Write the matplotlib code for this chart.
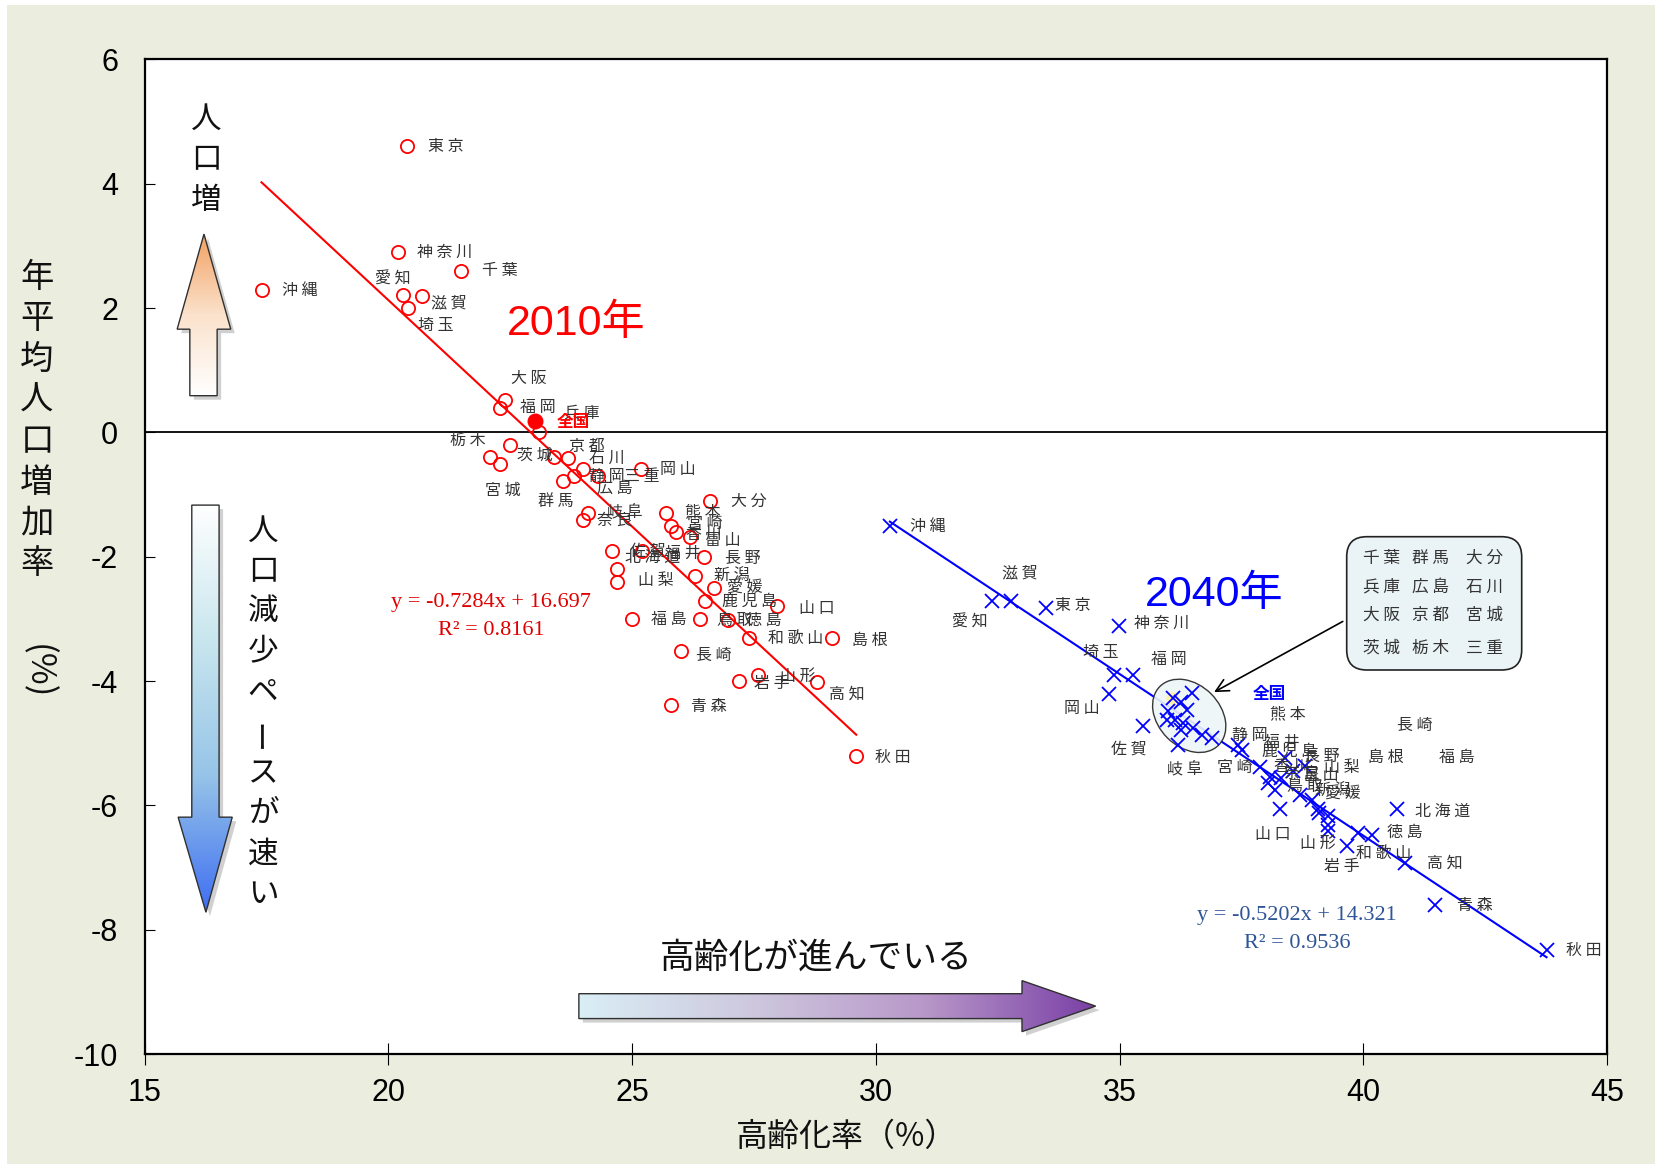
import matplotlib
matplotlib.use("Agg")
import matplotlib.pyplot as plt
import matplotlib.transforms as mtransforms
import numpy as np
from matplotlib.patches import Polygon, Ellipse, FancyBboxPatch, Rectangle
from matplotlib.colors import LinearSegmentedColormap

JP = ["Noto Sans CJK JP", "DejaVu Sans"]
NUM = ["Liberation Sans", "Noto Sans CJK JP"]
SERIF = ["Liberation Serif", "DejaVu Serif"]
plt.rcParams["font.family"] = JP
plt.rcParams["axes.unicode_minus"] = False

# --- 2010: 高齢化率 (%) / 人口増加率 (%)
names_2010 = ["東京", "神奈川", "千葉", "沖縄", "愛知", "滋賀", "埼玉", "大阪", "福岡", "兵庫",
              "茨城", "栃木", "宮城", "京都", "石川", "広島", "静岡", "群馬", "三重", "岡山",
              "大分", "岐阜", "奈良", "熊本", "宮崎", "香川", "富山", "佐賀", "福井", "北海道",
              "山梨", "長野", "新潟", "愛媛", "鹿児島", "山口", "福島", "鳥取", "徳島", "和歌山",
              "島根", "長崎", "岩手", "山形", "高知", "青森", "秋田"]
aging_2010 = [20.39, 20.20, 21.50, 17.40, 20.30, 20.69, 20.40, 22.40, 22.30, 23.09,
              22.50, 22.09, 22.29, 23.40, 23.68, 23.99, 23.80, 23.59, 24.30, 25.18,
              26.59, 24.10, 23.99, 25.70, 25.79, 25.90, 26.19, 24.58, 25.21, 24.70,
              24.70, 26.48, 26.29, 26.68, 26.49, 27.97, 24.99, 26.39, 26.96, 27.39,
              29.10, 26.00, 27.19, 27.59, 28.79, 25.79, 29.60]
growth_2010 = [4.60, 2.90, 2.60, 2.29, 2.21, 2.20, 2.00, 0.52, 0.40, 0.00,
               -0.20, -0.40, -0.51, -0.40, -0.41, -0.59, -0.70, -0.79, -0.70, -0.59,
               -1.10, -1.29, -1.41, -1.29, -1.50, -1.61, -1.69, -1.91, -1.91, -2.20,
               -2.41, -2.00, -2.31, -2.50, -2.71, -2.80, -3.01, -3.01, -3.02, -3.30,
               -3.30, -3.51, -4.00, -3.90, -4.01, -4.39, -5.21]
national_2010 = (23.00, 0.19)

# --- 2040
names_2040 = ["沖縄", "愛知", "滋賀", "東京", "神奈川", "埼玉", "福岡", "岡山", "佐賀", "岐阜",
              "静岡", "宮崎", "鹿児島", "香川", "熊本", "奈良", "富山", "鳥取", "福井", "山梨",
              "山口", "島根", "長崎", "福島", "山形", "岩手", "和歌山", "徳島", "北海道", "高知",
              "青森", "秋田", "長野", "新潟", "愛媛",
              "千葉", "群馬", "大分", "兵庫", "広島", "石川", "大阪", "京都", "宮城", "茨城",
              "栃木", "三重"]
aging_2040 = [30.29, 32.39, 32.77, 33.49, 34.99, 34.89, 35.28, 34.78, 35.49, 36.19,
              37.43, 37.51, 37.88, 38.09, 38.39, 38.32, 38.05, 38.19, 38.81, 38.70,
              38.29, 39.08, 39.28, 39.28, 39.28, 39.66, 39.90, 40.17, 40.69, 40.86,
              41.47, 43.76, 38.55, 38.95, 39.10,
              36.10, 36.27, 36.48, 36.00, 36.38, 35.97, 36.14, 36.31, 36.27, 36.51,
              36.69, 36.89]
growth_2040 = [-1.51, -2.71, -2.71, -2.82, -3.11, -3.91, -3.91, -4.21, -4.72, -5.03,
               -5.03, -5.11, -5.38, -5.54, -5.24, -5.56, -5.64, -5.75, -5.36, -5.84,
               -6.06, -6.06, -6.17, -6.31, -6.42, -6.66, -6.45, -6.48, -6.06, -6.93,
               -7.61, -8.33, -5.45, -5.92, -6.12,
               -4.28, -4.33, -4.20, -4.49, -4.47, -4.63, -4.63, -4.68, -4.79, -4.76,
               -4.87, -4.92]
national_2040 = (36.08, -4.28)

fit_2010 = (-0.7284, 16.697, 0.8161)
fit_2040 = (-0.5202, 14.321, 0.9536)

box_names = [["千葉", "群馬", "大分"], ["兵庫", "広島", "石川"],
             ["大阪", "京都", "宮城"], ["茨城", "栃木", "三重"]]
in_box = {n for row in box_names for n in row}

# label offsets in pixels (dx, dy downward)
off_2010 = {
    "東京": (39, 0), "神奈川": (47, 0), "千葉": (38, 0), "沖縄": (38, 0), "愛知": (-10, -16),
    "滋賀": (27, 7), "埼玉": (28, 17), "大阪": (24, -22), "福岡": (37, 0), "兵庫": (43, -19),
    "茨城": (25, 10), "栃木": (-22, -17), "宮城": (3, 26), "京都": (33, -11), "石川": (39, 0),
    "広島": (32, 19), "静岡": (33, 1), "群馬": (-7, 20), "三重": (44, 1), "岡山": (37, 0),
    "大分": (39, 1), "岐阜": (37, 0), "奈良": (32, 0), "熊本": (37, -1), "宮崎": (34, -2),
    "香川": (28, 2), "富山": (33, 3), "佐賀": (36, 0), "福井": (41, 2), "北海道": (35, -12),
    "山梨": (38, -2), "長野": (39, 2), "新潟": (37, 0), "愛媛": (31, 0), "鹿児島": (45, 1),
    "山口": (40, 2), "福島": (37, 0), "鳥取": (35, 1), "徳島": (36, 0), "和歌山": (47, 1),
    "島根": (38, 3), "長崎": (33, 5), "岩手": (33, 2), "山形": (40, 2), "高知": (30, 12),
    "青森": (38, 1), "秋田": (37, 1)}
off_2040 = {
    "沖縄": (38, 0), "愛知": (-22, 21), "滋賀": (9, -28), "東京": (27, -2), "神奈川": (43, -2),
    "埼玉": (-13, -23), "福岡": (36, -16), "岡山": (-27, 14), "佐賀": (-15, 23), "岐阜": (7, 25),
    "静岡": (12, -10), "宮崎": (-7, 17), "鹿児島": (30, -15), "香川": (22, -10), "熊本": (3, -44),
    "奈良": (20, -5), "富山": (53, -7), "鳥取": (30, -3), "福井": (-23, -23), "山梨": (42, -28),
    "山口": (-7, 25), "島根": (67, -52), "長崎": (87, -90), "福島": (129, -67), "山形": (-10, 12),
    "岩手": (-5, 20), "和歌山": (25, 20), "徳島": (33, -3), "北海道": (46, 2), "高知": (40, 0),
    "青森": (40, 0), "秋田": (37, 0), "長野": (29, -15), "新潟": (21, -9), "愛媛": (23, -19)}

W, H = 1656, 1164


def fpx(x, y):
    return x / W, 1 - y / H


def spaced(s):
    return " ".join(s)


fig = plt.figure(figsize=(W / 100, H / 100), dpi=100)
fig.patch.set_facecolor("white")
fig.patches.append(Rectangle((7 / W, 0), 1, 1 - 5 / H, transform=fig.transFigure,
                             facecolor="#EBEEDF", edgecolor="none", zorder=-5))

ax = fig.add_axes([0.08726, 0.0945, 0.88315, 0.85447])
ax.set_facecolor("white")


def gradient_arrow(verts, colors, vertical=True):
    poly = Polygon(verts, closed=True, facecolor="none", edgecolor="#303030", lw=1.0, zorder=3.1)
    shadow = Polygon(verts, closed=True, facecolor="#7a7a7a", edgecolor="none", alpha=0.35, zorder=2.9,
                     transform=mtransforms.offset_copy(ax.transData, fig=fig, x=4, y=-4, units="dots"))
    ax.add_patch(shadow)
    ax.add_patch(poly)
    xs = [v[0] for v in verts]
    ys = [v[1] for v in verts]
    cmap = LinearSegmentedColormap.from_list("g", colors)
    grad = np.linspace(0, 1, 256)
    img = grad.reshape(-1, 1) if vertical else grad.reshape(1, -1)
    im = ax.imshow(img, cmap=cmap, extent=(min(xs), max(xs), min(ys), max(ys)), origin="lower",
                   aspect="auto", zorder=3, interpolation="bilinear")
    im.set_clip_path(poly)


# up / down / right arrows
gradient_arrow([(15.93, 0.59), (16.49, 0.59), (16.49, 1.66), (16.77, 1.66), (16.22, 3.19),
                (15.67, 1.66), (15.93, 1.66)], ["#FFFFFF", "#FBE2CC", "#F2A163"])
gradient_arrow([(15.97, -1.17), (16.53, -1.17), (16.53, -6.19), (16.80, -6.19), (16.26, -7.72),
                (15.69, -6.19), (15.97, -6.19)], ["#3F6EF2", "#96C4E8", "#C8E6EE", "#FFFFFF"])
gradient_arrow([(23.91, -9.03), (33.0, -9.03), (33.0, -8.82), (34.51, -9.23), (33.0, -9.64),
                (33.0, -9.43), (23.91, -9.43)], ["#DAEEF6", "#CEC8DE", "#B898C9", "#7A40A6"],
               vertical=False)

ax.axhline(0, color="black", lw=1.3, zorder=2)

# 2010 series
ax.plot(aging_2010, growth_2010, "o", ms=9.5, mfc="none", mec="#FF0000", mew=1.3, zorder=5)
ax.plot(*national_2010, "o", ms=10.5, color="#FF0000", zorder=5)
x0, x1 = min(aging_2010), max(aging_2010)
ax.plot([x0, x1], [fit_2010[0] * x0 + fit_2010[1], fit_2010[0] * x1 + fit_2010[1]],
        color="#FF0000", lw=1.5, zorder=4)

# 2040 series
ax.plot(*national_2040, "o", ms=8, color="#FFF2A8", zorder=4.5)
ax.plot(aging_2040, growth_2040, "x", ms=9.5, mec="#0000FF", mew=1.3, zorder=5)
x0, x1 = min(aging_2040), max(aging_2040)
ax.plot([x0, x1], [fit_2040[0] * x0 + fit_2040[1], fit_2040[0] * x1 + fit_2040[1]],
        color="#0000FF", lw=1.5, zorder=4)

for n, x, y in zip(names_2010, aging_2010, growth_2010):
    dx, dy = off_2010[n]
    ax.annotate(spaced(n), (x, y), xytext=(dx, -dy), textcoords="offset pixels", ha="center",
                va="center", fontsize=11.5, color="#333333", zorder=6)
for n, x, y in zip(names_2040, aging_2040, growth_2040):
    if n in in_box:
        continue
    dx, dy = off_2040[n]
    ax.annotate(spaced(n), (x, y), xytext=(dx, -dy), textcoords="offset pixels", ha="center",
                va="center", fontsize=11.5, color="#333333", zorder=6)

ax.annotate("全国", national_2010, xytext=(39, -1), textcoords="offset pixels", ha="center",
            va="center", fontsize=12, fontweight="bold", color="#FF0000", zorder=6)
ax.annotate("全国", national_2040, xytext=(97, 4), textcoords="offset pixels", ha="center",
            va="center", fontsize=12, fontweight="bold", color="#0000FF", zorder=6)

# year titles
ax.text(23.86, 1.74, "2010年", fontsize=31, color="#FF0000", family=NUM, ha="center", va="center")
ax.text(36.95, -2.61, "2040年", fontsize=31, color="#0000FF", family=NUM, ha="center", va="center")

# regression equations
ax.text(22.11, -2.73, "y = -0.7284x + 16.697", fontsize=16, color="#E00000", family=SERIF,
        ha="center", va="center")
ax.text(22.11, -3.19, "R² = 0.8161", fontsize=16, color="#E00000", family=SERIF,
        ha="center", va="center")
ax.text(38.64, -7.77, "y = -0.5202x + 14.321", fontsize=16, color="#2F5597", family=SERIF,
        ha="center", va="center")
ax.text(38.64, -8.23, "R² = 0.9536", fontsize=16, color="#2F5597", family=SERIF,
        ha="center", va="center")

# ellipse round the dense 2040 group
ell_tr = fig.dpi_scale_trans + mtransforms.ScaledTranslation(36.43, -4.56, ax.transData)
ax.add_patch(Ellipse((0, 0), 0.83, 0.62, angle=-45, transform=ell_tr, facecolor="#EEF5F7",
                     edgecolor="#222222", lw=1.0, zorder=4.2, alpha=0.9))

# callout box
bx0, by0 = 1346.7 / 100, (H - 670) / 100
ax.add_patch(FancyBboxPatch((bx0, by0), 1.75, 1.333, boxstyle="round,pad=0,rounding_size=0.2",
                            transform=fig.dpi_scale_trans, facecolor="#EAF3F6", edgecolor="#222222",
                            lw=1.2, zorder=6, clip_on=False))
col_x = [1382, 1431, 1485]
row_y = [558, 587, 615, 648]
for r, row in enumerate(box_names):
    for c, n in enumerate(row):
        fig.text(*fpx(col_x[c], row_y[r]), spaced(n), fontsize=12, color="#333333", ha="center",
                 va="center", zorder=7)
ax.annotate("", xy=(36.89, -4.20), xytext=(39.63, -3.02),
            arrowprops=dict(arrowstyle="->,head_length=0.9,head_width=0.45", color="black", lw=1.2),
            zorder=7)

# arrow captions
for i, ch in enumerate("人口増"):
    fig.text(*fpx(206, 119 + i * 40.5), ch, fontsize=22, ha="center", va="center", color="#111111")
for i, ch in enumerate("人口減少ペースが速い"):
    fig.text(*fpx(263, 531 + i * 40.4), ch, fontsize=22, ha="center", va="center", color="#111111",
             rotation=90 if ch == "ー" else 0)
ax.text(28.78, -8.46, "高齢化が進んでいる", fontsize=25, ha="center", va="center", color="#111111")

# axes
ax.set_xlim(15, 45)
ax.set_ylim(-10, 6)
ax.set_xticks(range(15, 46, 5))
ax.set_yticks(range(-10, 7, 2))
ax.tick_params(axis="y", direction="in", length=7, width=0.8, pad=19, labelsize=22)
ax.tick_params(axis="x", direction="inout", length=16, width=0.8, pad=9, labelsize=22)
for lbl in ax.get_xticklabels() + ax.get_yticklabels():
    lbl.set_fontfamily(NUM)
for s in ax.spines.values():
    s.set_linewidth(1.6)
    s.set_color("black")

fig.text(*fpx(847, 1137), "高齢化率（%）", fontsize=23, ha="center", va="center", color="#111111")
for i, ch in enumerate("年平均人口増加率"):
    fig.text(*fpx(37, 278 + i * 40.8), ch, fontsize=24, ha="center", va="center", color="#111111")
fig.text(*fpx(37, 672), "(%)", fontsize=25, ha="center", va="center", color="#111111", rotation=-90)

fig.savefig("out.png", dpi=100, facecolor=fig.get_facecolor())
